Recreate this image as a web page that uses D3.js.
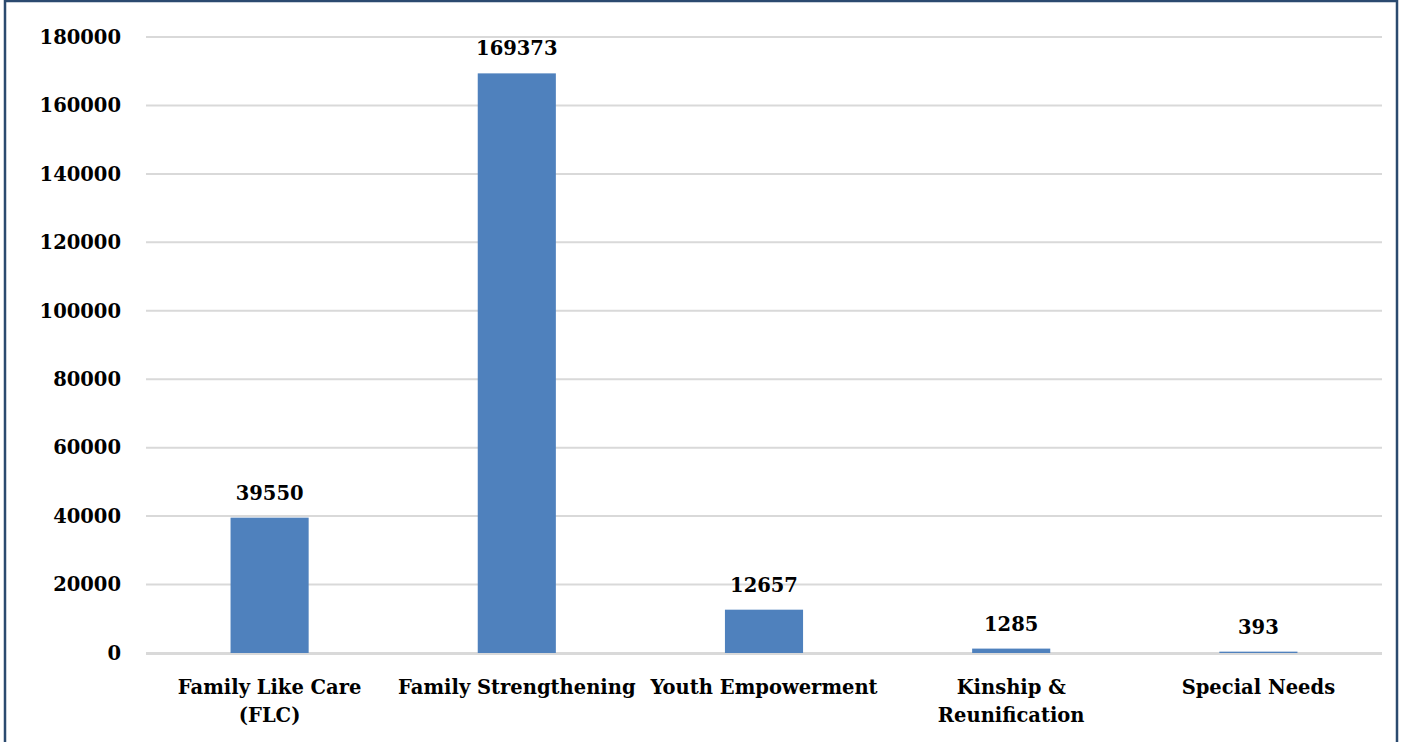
<!DOCTYPE html>
<html>
<head>
<meta charset="utf-8">
<script src="https://cdn.jsdelivr.net/npm/d3@7"></script>
<style>
  html, body { margin: 0; padding: 0; background: #fff; }
  svg { display: block; }
  text { font-family: "DejaVu Serif", serif; font-weight: bold; fill: #000; }
</style>
</head>
<body>
<svg id="chart" width="1401" height="742"></svg>
<script>
const categories = [["Family Like Care", "(FLC)"], ["Family Strengthening"], ["Youth Empowerment"], ["Kinship &", "Reunification"], ["Special Needs"]];
const values = [39550, 169373, 12657, 1285, 393];
const yTicks = [0, 20000, 40000, 60000, 80000, 100000, 120000, 140000, 160000, 180000];

(function () {
const mLeft = 146, mRight = 1382, mTop = 37, mBottom = 653;
const svg = d3.select("#chart");

// outer border
svg.append("rect").attr("x", 5).attr("y", 1).attr("width", 1392).attr("height", 745)
  .attr("fill", "none").attr("stroke", "#2b4a6f").attr("stroke-width", 2.5);

const idx = categories.map((d, i) => i);
const x = d3.scaleBand().domain(idx).range([mLeft, mRight]).paddingInner(0.684).paddingOuter(0.342);
const y = d3.scaleLinear().domain([0, 180000]).range([mBottom, mTop]);

// gridlines
svg.append("g").selectAll("line").data(yTicks).join("line")
  .attr("x1", mLeft).attr("x2", mRight)
  .attr("y1", d => y(d)).attr("y2", d => y(d))
  .attr("stroke", "#d9d9d9").attr("stroke-width", 2);

// y axis labels
const yAxis = d3.axisLeft(y).tickValues(yTicks).tickSize(0).tickPadding(25).tickFormat(d3.format("d"));
const gy = svg.append("g").attr("transform", `translate(${mLeft},0)`).call(yAxis);
gy.select(".domain").remove();
gy.selectAll("text").style("font-size", "19.5px").style("font-family", "DejaVu Serif").style("font-weight", "bold").attr("fill", "#000");

// bars
svg.append("g").selectAll("rect").data(values).join("rect")
  .attr("x", (d, i) => x(i)).attr("width", x.bandwidth())
  .attr("y", d => y(d)).attr("height", d => mBottom - y(d))
  .attr("fill", "#4f81bd");

// baseline
svg.append("line").attr("x1", mLeft).attr("x2", mRight).attr("y1", mBottom + 1).attr("y2", mBottom + 1)
  .attr("stroke", "#d9d9d9").attr("stroke-width", 2);

// value labels
svg.append("g").selectAll("text").data(values).join("text")
  .attr("x", (d, i) => x(i) + x.bandwidth() / 2)
  .attr("y", d => y(d) - 18)
  .attr("text-anchor", "middle").style("font-size", "19.5px")
  .text(d => d);

// category labels
const gx = svg.append("g");
categories.forEach((lines, i) => {
  const cx = x(i) + x.bandwidth() / 2;
  const t = gx.append("text").attr("text-anchor", "middle").style("font-size", "19.5px")
    .attr("x", cx).attr("y", 694);
  lines.forEach((ln, j) => {
    t.append("tspan").attr("x", cx).attr("dy", j === 0 ? 0 : 28).text(ln);
  });
});
})();
</script>
</body>
</html>
